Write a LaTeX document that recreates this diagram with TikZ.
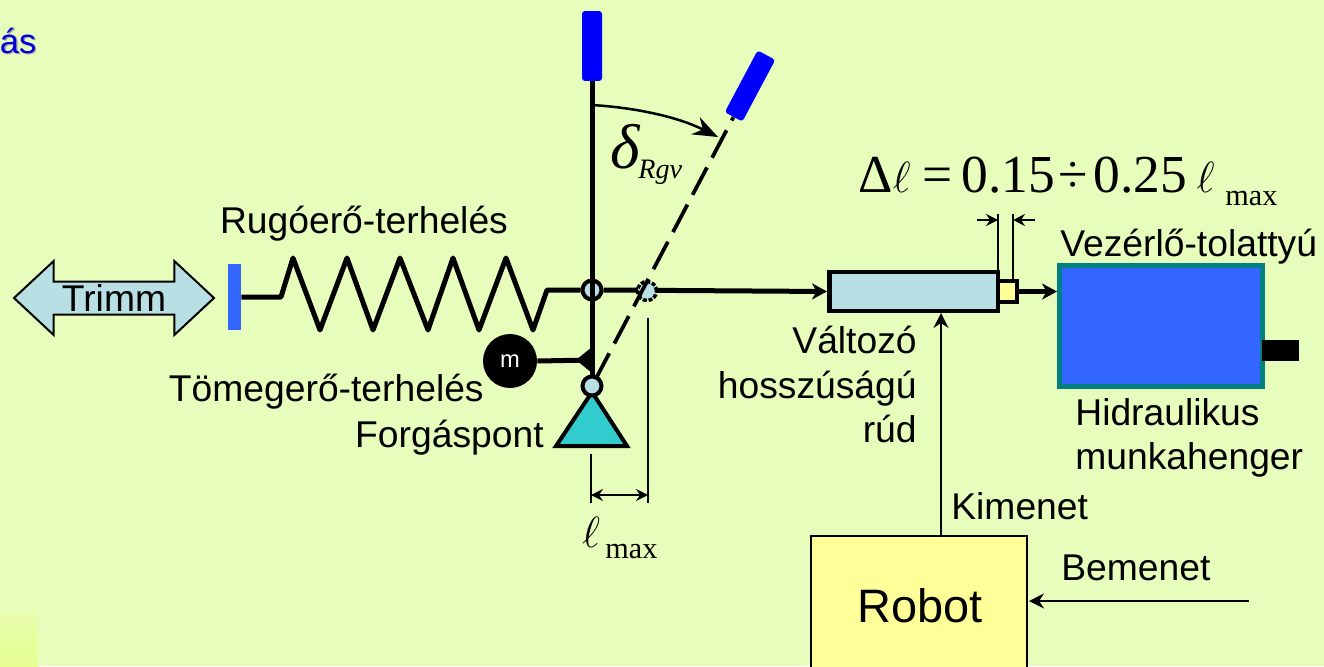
\documentclass[tikz,border=0pt]{standalone}
\usepackage{fontspec}
\setmainfont{Liberation Sans}
\newfontfamily\timesfont{Liberation Serif}
\usetikzlibrary{arrows.meta,shapes.arrows}
\definecolor{hatter}{HTML}{E6FDBB}
\definecolor{halvany}{HTML}{B8DFE3}
\definecolor{kek}{HTML}{3366FF}
\definecolor{sotetkek}{HTML}{0000FF}
\definecolor{turkiz}{HTML}{33CCCC}
\definecolor{zold}{HTML}{008080}
\definecolor{sarga}{HTML}{FFFF99}
\definecolor{folt1}{HTML}{E8FDAE}
\definecolor{folt2}{HTML}{E6FE92}
\newcommand{\txtsize}{\fontsize{21.2}{25}\selectfont}
\begin{document}
\begin{tikzpicture}[x=0.02cm, y=-0.02cm, >=stealth]
\tikzstyle{txt}=[inner sep=0pt,font=\txtsize]
\tikzstyle{serif}=[inner sep=0pt,font=\timesfont\fontsize{30.4}{32}\selectfont]
\tikzstyle{kis}=[inner sep=0pt,font=\timesfont\fontsize{17.2}{20}\selectfont]
\tikzstyle{bar}=[line width=1mm]
\tikzstyle{dashbar}=[line width=0.75mm,dash pattern=on 6.2mm off 2.2mm,dash phase=7.2mm]
\tikzstyle{vekony}=[line width=0.4mm]
\tikzstyle{vektip}=[-{Stealth[length=3mm,width=3mm,inset=1mm]}]
\tikzstyle{dimtip}=[-{Stealth[length=2.4mm,width=2.4mm,inset=0.8mm]}]
\tikzstyle{bartip}=[-{Stealth[length=3mm,width=3.2mm,inset=0.9mm]}]
\tikzstyle{handle}=[rectangle,fill=sotetkek,rounded corners=0.6mm,minimum width=4mm,minimum height=14mm,inner sep=0pt]
\tikzstyle{joint}=[circle,draw,line width=0.8mm,fill=halvany,minimum size=3.8mm,inner sep=0pt]
\useasboundingbox (0,0) rectangle (1324,666);
\clip (0,0) rectangle (1324,666);
\fill[hatter] (0,0) rectangle (1324,666);
\shade[top color=folt1,bottom color=folt2] (0,612) rectangle (38,666);
% cim maradeka
\node[anchor=base east,inner sep=0pt,text=black!35,font=\fontsize{19.6}{24}\selectfont] (cimarny) at (38,54.5) {ás};
\node[anchor=base east,inner sep=0pt,text=blue!85!black,font=\fontsize{19.6}{24}\selectfont] (cim) at (36.6,53) {ás};
% trimm es rugo
\node[double arrow,draw,line width=0.4mm,fill=halvany,minimum width=14.8mm,minimum height=40mm,double arrow head extend=3.6mm,double arrow tip angle=86,inner sep=0pt,font=\txtsize] (trimm) at (114,298) {Trimm};
\node[rectangle,fill=kek,minimum width=2.6mm,minimum height=13.2mm,inner sep=0pt] (rugotalp) at (234.5,297) {};
\node[txt,anchor=base] (rugofel) at (364,233) {Rugóerő-terhelés};
% kar
\node[handle] (kar) at (592,46) {};
\node[handle,rotate=-28] (kardont) at (750,86) {};
\coordinate (forg) at (592,386);
\node[joint] (csukl) at (592,290) {};
\draw[line join=round,line width=1mm] (rugotalp.east) -- (281,297) -- (293,258) -- (320,330) -- (347,258) -- (373,330) -- (400,258) -- (428,330) -- (453,258) -- (479,330) -- (506,258) -- (533,330) -- (547,290) -- (csukl.west);
\draw[bar] (kar.south) -- (forg);
% terhelo tomeg
\node[circle,fill=black,text=white,minimum size=10.8mm,inner sep=0pt,font=\fontsize{13.5}{15}\selectfont] (tomeg) at (510,361) {m};
\coordinate (karpont) at (592,360);
\draw[bar] (tomeg.east) -- (karpont);
\fill (576,360) -- (592,347) -- (592,373) -- cycle;
\node[txt,anchor=base east] (tomegfel) at (484,401) {Tömegerő-terhelés};
\node[txt,anchor=base east] (forgfel) at (544,447) {Forgáspont};
% valtozo hosszusagu rud
\node[rectangle,draw,line width=0.8mm,fill=sarga,minimum width=4.2mm,minimum height=4.3mm,inner sep=0pt] (kisrud) at (1006,291.5) {};
\node[rectangle,draw,line width=0.9mm,fill=halvany,minimum width=33.7mm,minimum height=7.8mm,inner sep=0pt] (rud) at (913.5,291.5) {};
\draw[bar,bartip] (csukl.east) -- (rud.west);
\node[joint,densely dotted,line width=0.7mm] (csukl2) at (647,291) {};
\draw[dashbar] (forg) -- (kardont.south);
% forgaspont
\draw[line width=0.8mm,fill=turkiz,line join=miter] (592,392) -- (627,446) -- (556,446) -- cycle;
\node[joint] (fulcrum) at (forg) {};
% munkahenger
\node[rectangle,draw=zold,line width=1mm,fill=kek,minimum width=40.6mm,minimum height=24.2mm,inner sep=0pt] (henger) at (1161,326) {};
\node[rectangle,fill=black,minimum width=7.4mm,minimum height=4.2mm,inner sep=0pt] (dugo) at (1280.5,350.5) {};
\draw[bar,bartip] (kisrud.east) -- (henger.west |- kisrud.east);
\node[txt,anchor=base east] (valt1) at (917,353) {Változó};
\node[txt,anchor=base east] (valt2) at (917,398) {hosszúságú};
\node[txt,anchor=base east] (valt3) at (917,442) {rúd};
\node[txt,anchor=base west] (vez) at (1060,256) {Vezérlő-tolattyú};
\node[txt,anchor=base west] (hidr1) at (1075,425) {Hidraulikus};
\node[txt,anchor=base west] (hidr2) at (1075,469) {munkahenger};
% robot
\node[rectangle,draw,line width=0.4mm,fill=sarga,minimum width=43.2mm,minimum height=32mm,inner sep=0pt] (robot) at (919,616) {};
\node[inner sep=0pt,anchor=base,font=\fontsize{26.7}{30}\selectfont] (robotfel) at (920,622) {Robot};
\coordinate (rudalj) at (941,313);
\draw[vekony,vektip] (robot.north -| rudalj) -- (rudalj);
\coordinate (bement) at (1249,601);
\coordinate (robotjobb) at (1029,601);
\draw[vekony,vektip] (bement) -- (robotjobb);
\node[txt,anchor=base west] (kimfel) at (951,519) {Kimenet};
\node[txt,anchor=base west] (bemfel) at (1061,580) {Bemenet};
% szog
\coordinate (szog1) at (592,105);
\coordinate (szog2) at (718,137);
\draw[line width=0.5mm,-{Stealth[length=5mm,width=3.8mm,inset=1.6mm]}] (szog1) .. controls (640,108) and (680,118) .. (szog2);
\node[inner sep=0pt,anchor=base,font=\timesfont\itshape\fontsize{36}{38}\selectfont] (delta) at (625,168) {δ};
\node[inner sep=0pt,anchor=base west,font=\timesfont\itshape\fontsize{16}{18}\selectfont] (rgv) at (638,178) {Rgv};
% lmax meret
\coordinate (lm1) at (591,454);
\coordinate (lm1a) at (591,503);
\coordinate (lm2) at (648,318);
\coordinate (lm2a) at (648,503);
\draw[line width=0.35mm] (lm1) -- (lm1a);
\draw[line width=0.35mm] (lm2) -- (lm2a);
\coordinate (lmk) at (620,495);
\draw[line width=0.3mm,dimtip] (lmk) -- (lm1 |- lmk);
\draw[line width=0.3mm,dimtip] (lmk) -- (lm2 |- lmk);
\node[inner sep=0pt,anchor=base,font=\fontsize{30}{32}\selectfont] (ell1) at (591,547) {$\ell$};
\node[kis,anchor=base west] (max1) at (605,558) {max};
% delta l meret
\coordinate (dl1) at (998,214);
\coordinate (dl2) at (1013,214);
\draw[line width=0.3mm] (dl1) -- (rud.north -| dl1);
\draw[line width=0.3mm] (dl2) -- (kisrud.north -| dl2);
\coordinate (dlb) at (977,220);
\coordinate (dlj) at (1035,220);
\draw[line width=0.3mm,dimtip] (dlb) -- (dl1 |- dlb);
\draw[line width=0.3mm,dimtip] (dlj) -- (dl2 |- dlj);
\node[serif,anchor=base west] (keplet) at (858,192) {Δ$\ell$\hspace{2.4mm}=\hspace{1.8mm}0.15\hspace{0.6mm}÷\hspace{1.2mm}0.25\hspace{1.9mm}$\ell$};
\node[kis,anchor=base west] (max2) at (1225,205) {max};
\end{tikzpicture}
\end{document}
